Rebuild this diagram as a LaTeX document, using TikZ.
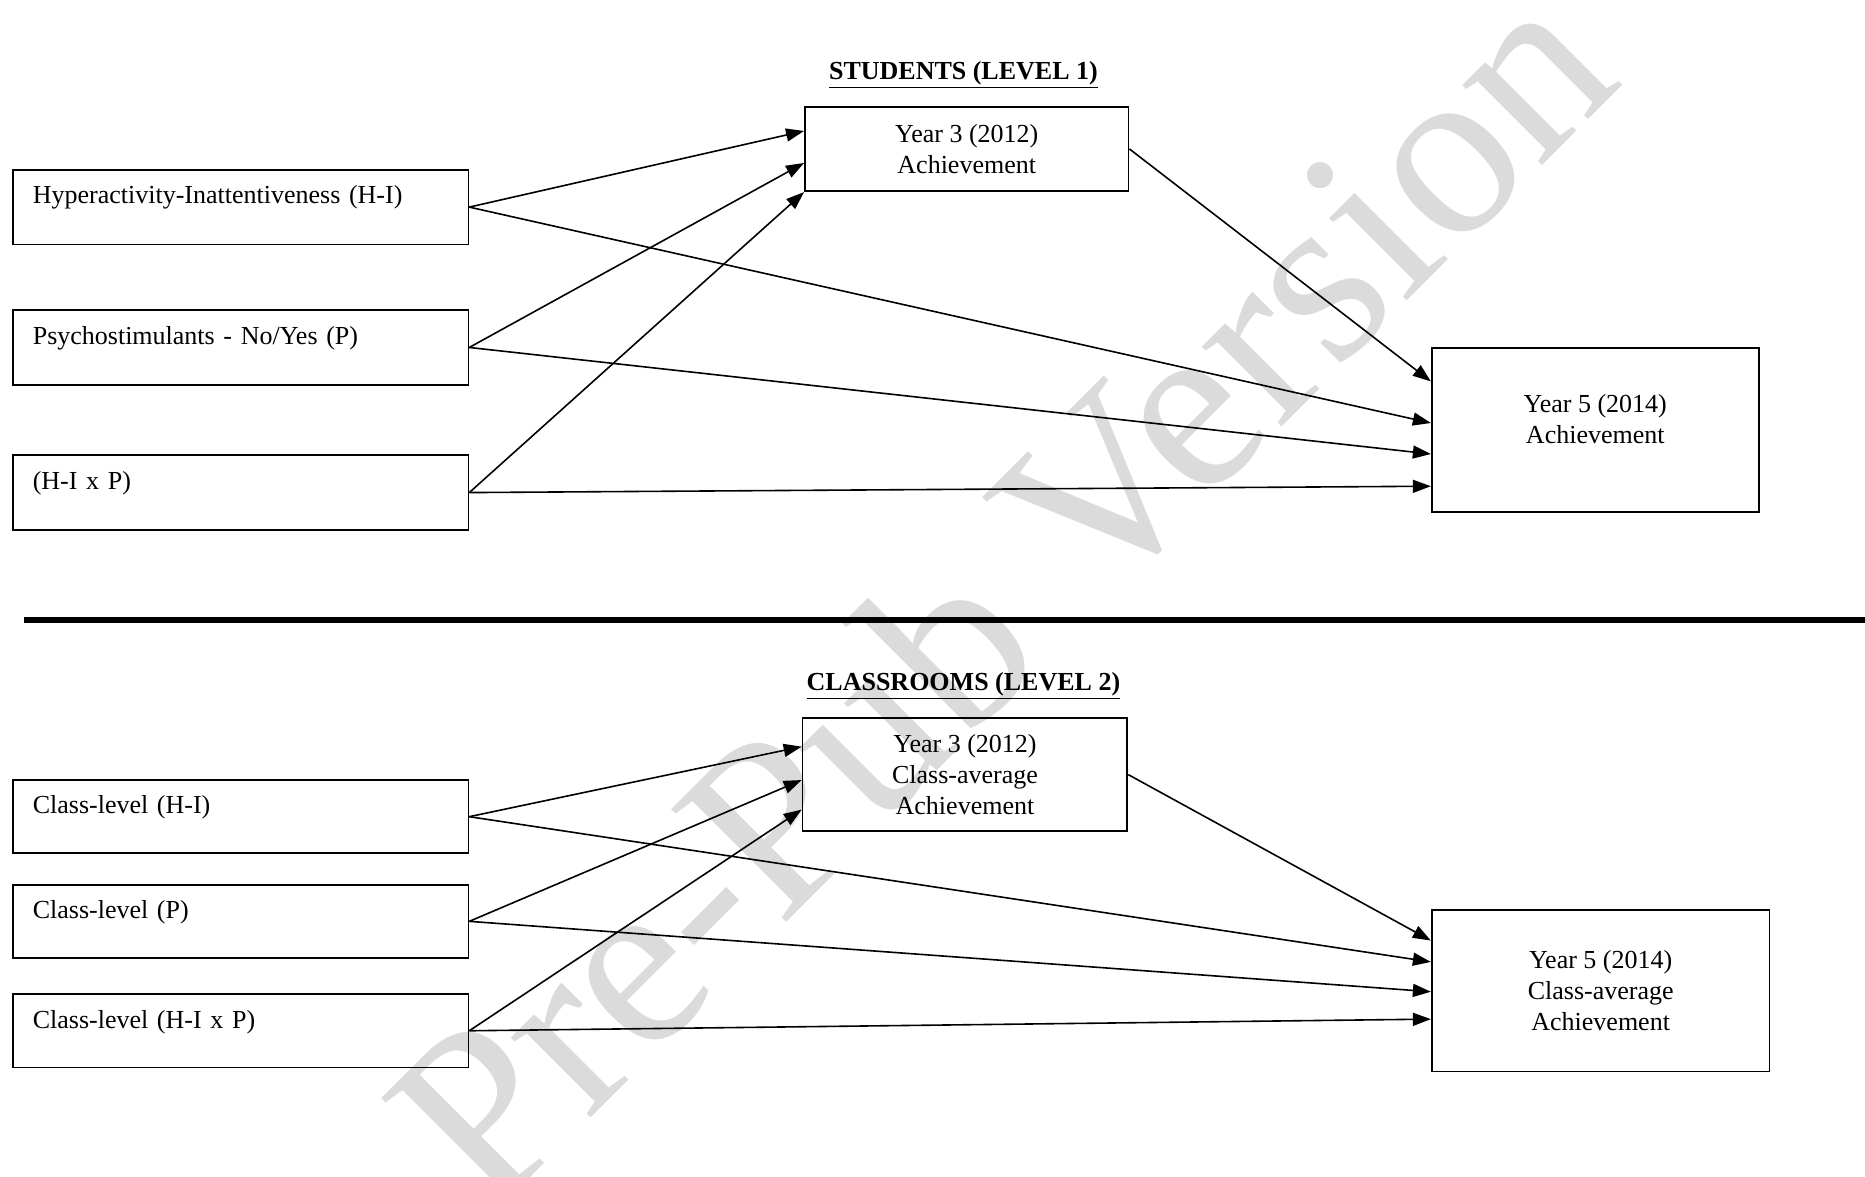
\documentclass[tikz,border=0pt]{standalone}
\usepackage{fontspec}
\setmainfont{Liberation Serif}
\usetikzlibrary{arrows.meta}

\begin{document}
\begin{tikzpicture}[x=0.5947pt,y=-0.5947pt,
  every node/.style={font=\fontsize{13}{15.5}\selectfont},
  lbox/.style={draw,line width=0.9pt,anchor=north west,text width=207.8pt,align=left,
    inner xsep=10pt,inner ysep=0pt,text height=17pt,text depth=20.3pt},
  ybox/.style={draw,line width=0.9pt,anchor=north west,align=center,inner sep=0pt},
  lvltitle/.style={font=\fontsize{13}{15.5}\selectfont\bfseries},
  effect/.style={-{Triangle[length=9pt,width=6.5pt]},line width=0.8pt},
  wmark/.style={text=black!14,font=\fontsize{123}{123}\selectfont,rotate=45}]
  \useasboundingbox (0,0) rectangle (1568,989);
  \node[wmark] (wm) at (840,497) {Pre-Pub Version};

  \node[lvltitle] (lvl1) at (810,63) {\underline{STUDENTS (LEVEL 1)}};
  \node[lbox] (hi) at (10,142) {Hyperactivity-Inattentiveness (H-I)};
  \node[lbox] (p) at (10,260) {Psychostimulants - No/Yes (P)};
  \node[lbox] (hip) at (10,382) {(H-I x P)};
  \node[ybox,minimum width=161.8pt,minimum height=42.2pt] (y3) at (676,89) {Year 3 (2012)\\Achievement};
  \node[ybox,minimum width=163.5pt,minimum height=82pt,text depth=11pt] (y5) at (1203,292) {Year 5 (2014)\\Achievement};

  \draw[effect] (hi.east) -- ([yshift=9pt]y3.west);
  \draw[effect] (p.east) -- ([yshift=-7pt]y3.west);
  \draw[effect] (hip.east) -- (y3.south west);
  \draw[effect] (hi.east) -- ([yshift=3.6pt]y5.west);
  \draw[effect] (p.east) -- ([yshift=-11.9pt]y5.west);
  \draw[effect] (hip.east) -- ([yshift=-28pt]y5.west);
  \draw[effect] (y3.east) -- ([yshift=24.4pt]y5.west);

  \draw[line width=3pt] (20,521) -- (1568,521);

  \node[lvltitle] (lvl2) at (810,577) {\underline{CLASSROOMS (LEVEL 2)}};
  \node[lbox,text depth=19.7pt] (chi) at (10,655) {Class-level (H-I)};
  \node[lbox,text depth=19.7pt] (cp) at (10,743) {Class-level (P)};
  \node[lbox,text depth=19.7pt] (chip) at (10,835) {Class-level (H-I x P)};
  \node[ybox,minimum width=162.4pt,minimum height=56.5pt] (y3c) at (674,603) {Year 3 (2012)\\Class-average\\Achievement};
  \node[ybox,minimum width=168.9pt,minimum height=80.9pt] (y5c) at (1203,764) {Year 5 (2014)\\Class-average\\Achievement};

  \draw[effect] (chi.east) -- ([yshift=14pt]y3c.west);
  \draw[effect] (cp.east) -- ([yshift=-2.7pt]y3c.west);
  \draw[effect] (chip.east) -- ([yshift=-17.5pt]y3c.west);
  \draw[effect] (chi.east) -- ([yshift=14.3pt]y5c.west);
  \draw[effect] (cp.east) -- ([yshift=-0.6pt]y5c.west);
  \draw[effect] (chip.east) -- ([yshift=-14.3pt]y5c.west);
  \draw[effect] (y3c.east) -- ([yshift=25pt]y5c.west);
\end{tikzpicture}
\end{document}
